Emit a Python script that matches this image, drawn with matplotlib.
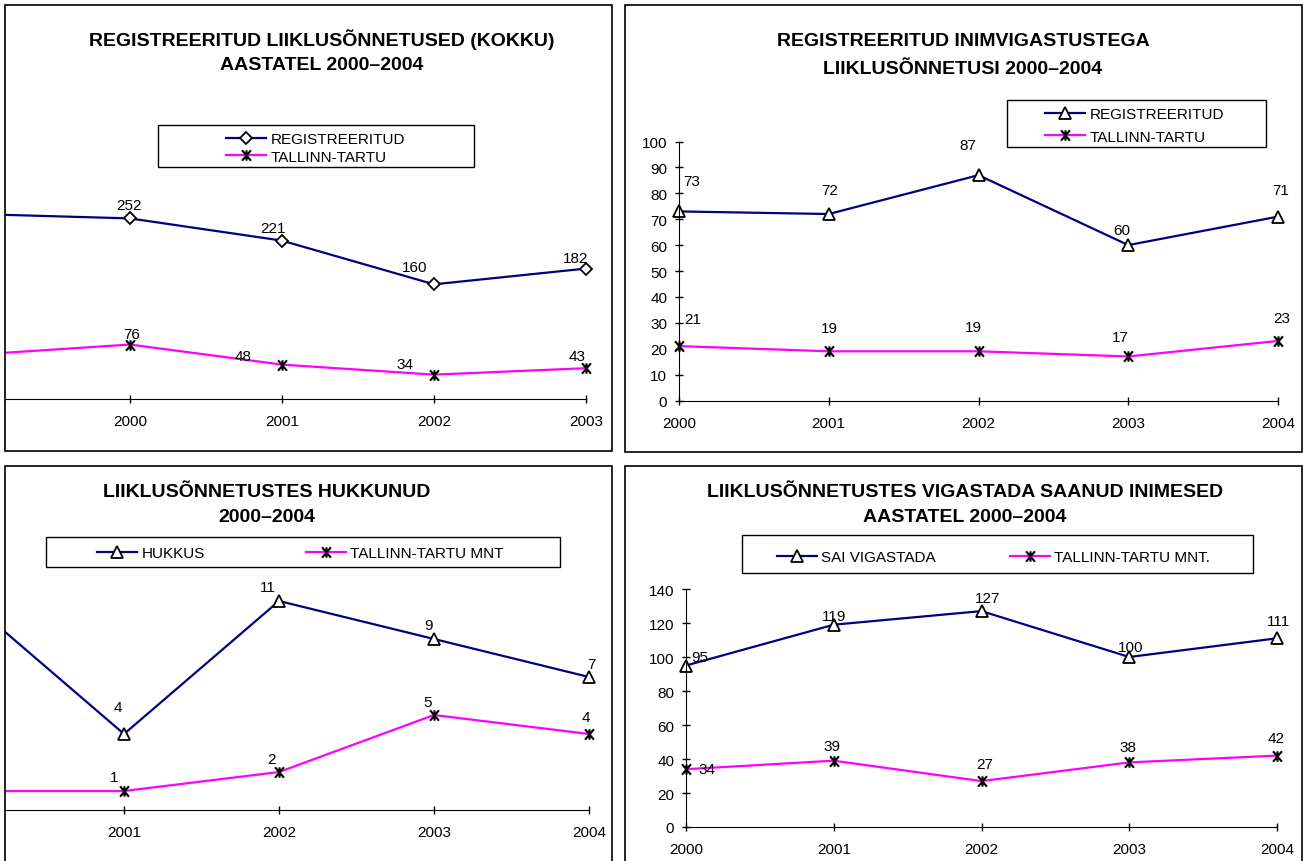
import numpy as np
import matplotlib.pyplot as plt
from matplotlib.patches import Rectangle
from matplotlib.path import Path

plt.rcParams['font.family'] = ['Liberation Sans', 'DejaVu Sans']

W, H = 1309, 862

# Top left: registered accidents (first category cut off by the crop)
tl_years = ['1999', '2000', '2001', '2002', '2003']
tl_registered = [258, 252, 221, 160, 182]
tl_tallinn = [62, 76, 48, 34, 43]

# Top right: accidents with injuries
tr_years = ['2000', '2001', '2002', '2003', '2004']
tr_registered = [73, 72, 87, 60, 71]
tr_tallinn = [21, 19, 19, 17, 23]

# Bottom left: killed (first category cut off)
bl_years = ['2000', '2001', '2002', '2003', '2004']
bl_killed = [11, 4, 11, 9, 7]
bl_tallinn = [1, 1, 2, 5, 4]

# Bottom right: injured people
br_years = ['2000', '2001', '2002', '2003', '2004']
br_injured = [95, 119, 127, 100, 111]
br_tallinn = [34, 39, 27, 38, 42]

NAVY = '#000080'
PINK = '#FF00FF'

# star marker: x with a vertical bar
star = Path([(-0.85, -1), (0.85, 1), (-0.85, 1), (0.85, -1), (0, -1), (0, 1)],
            [Path.MOVETO, Path.LINETO] * 3)

fig = plt.figure(figsize=(W / 100, H / 100), dpi=100)
fig.patch.set_facecolor('white')


def px_axes(x0, y0, x1, y1):
    return fig.add_axes([x0 / W, 1 - y1 / H, (x1 - x0) / W, (y1 - y0) / H])


def px_rect(x0, y0, x1, y1, lw=1.0):
    r = Rectangle((x0 / W, 1 - y1 / H), (x1 - x0) / W, (y1 - y0) / H,
                  transform=fig.transFigure, fill=False, edgecolor='black', lw=lw)
    fig.add_artist(r)


def px_text(x, y, s, **kw):
    fig.text(x / W, 1 - y / H, s, ha='center', va='center', **kw)


def add_legend(handles, labels, x, y, spacing=0.05):
    fig.legend(handles, labels, loc='center left', bbox_to_anchor=(x / W, 1 - y / H),
               frameon=False, borderpad=0, borderaxespad=0, handlelength=2.6,
               handletextpad=0.3, labelspacing=spacing, fontsize=11)


def style(ax, years, xlim, ylim, yticks=None, axis_end=None):
    ax.patch.set_alpha(0)
    ax.set_xticks(range(len(years)))
    ax.set_xticklabels(years)
    for s in ['top', 'right']:
        ax.spines[s].set_visible(False)
    ax.tick_params(axis='x', direction='inout', length=6, width=1, pad=8, labelsize=11)
    if yticks is None:
        ax.spines['left'].set_visible(False)
        ax.set_yticks([])
    else:
        ax.set_yticks(yticks)
        ax.tick_params(axis='y', direction='inout', length=6, width=1, pad=5.5, labelsize=11)
    ax.set_xlim(*xlim)
    ax.set_ylim(*ylim)
    if axis_end is not None:
        ax.spines['bottom'].set_bounds(xlim[0], axis_end)


def series(ax, vals, color, marker, ms, offsets, clip):
    x = np.arange(len(vals))
    if marker == 'star':
        ln, = ax.plot(x, vals, color=color, lw=1.6, marker=star, ms=7.5, mec='black',
                      mfc='none', mew=1.5, clip_on=clip)
    else:
        ln, = ax.plot(x, vals, color=color, lw=1.6, marker=marker, ms=ms, mec='black',
                      mfc='white', mew=1.3, clip_on=clip)
    for i, v in enumerate(vals):
        if i < ax.get_xlim()[0]:
            continue
        dx, dy = offsets[i]
        ax.annotate(str(v), (i, v), xytext=(dx, dy), textcoords='offset pixels',
                    ha='center', va='center', fontsize=11, annotation_clip=False)
    return ln


# panel frames
px_rect(5, 6, 612, 452, lw=1.2)
px_rect(625, 6, 1302, 453, lw=1.2)
px_rect(5, 467, 612, 900, lw=1.2)
px_rect(625, 467, 1302, 900, lw=1.2)

# ---- top left (left part of the chart is cropped away)
ax = px_axes(5, 185, 586 + 0.3 * 152, 400)
style(ax, tl_years, (0.178, 4.3), (0, 300), axis_end=4)
a = series(ax, tl_registered, NAVY, 'D', 6.5,
           [(0, 0), (-1, 13), (-9, 13), (-19, 17), (-10, 11)], True)
b = series(ax, tl_tallinn, PINK, 'star', 0,
           [(0, 0), (2, 11), (-39, 9), (-29, 11), (-9, 12)], True)
px_text(322, 40, 'REGISTREERITUD LIIKLUSÕNNETUSED (KOKKU)', fontsize=14, fontweight='bold')
px_text(322, 65, 'AASTATEL 2000–2004', fontsize=14, fontweight='bold')
px_rect(158, 126, 474, 168)
add_legend([a, b], ['REGISTREERITUD', 'TALLINN-TARTU'], 226, 149, spacing=0.2)

# ---- top right
ax = px_axes(679, 142.5, 1278, 401.5)
style(ax, tr_years, (0, 4), (0, 100), yticks=range(0, 101, 10))
a = series(ax, tr_registered, NAVY, '^', 8,
           [(13, 30), (1, 24), (-11, 30), (-7, 15), (3, 27)], False)
b = series(ax, tr_tallinn, PINK, 'star', 0,
           [(14, 27), (1, 23), (-5, 24), (-8, 19), (4, 23)], False)
px_text(963, 42, 'REGISTREERITUD INIMVIGASTUSTEGA', fontsize=14, fontweight='bold')
px_text(963, 69, 'LIIKLUSÕNNETUSI 2000–2004', fontsize=14, fontweight='bold')
px_rect(1007, 101, 1266, 148)
add_legend([a, b], ['REGISTREERITUD', 'TALLINN-TARTU'], 1045, 126.5, spacing=0.55)

# ---- bottom left (left part cropped away)
ax = px_axes(5, 583, 589 + 0.3 * 155, 811)
style(ax, bl_years, (0.232, 4.3), (0, 12), axis_end=4)
a = series(ax, bl_killed, NAVY, '^', 8,
           [(0, 0), (-6, 27), (-11, 14), (-6, 14), (2, 13)], True)
b = series(ax, bl_tallinn, PINK, 'star', 0,
           [(0, 0), (-10, 14), (-8, 13), (-6, 13), (-3, 17)], True)
px_text(267, 493, 'LIIKLUSÕNNETUSTES HUKKUNUD', fontsize=14, fontweight='bold')
px_text(267, 518, '2000–2004', fontsize=14, fontweight='bold')
px_rect(46, 538, 560, 568)
add_legend([a], ['HUKKUS'], 97, 554)
add_legend([b], ['TALLINN-TARTU MNT'], 306, 554)

# ---- bottom right
ax = px_axes(686, 590, 1277, 828)
style(ax, br_years, (0, 4), (0, 140), yticks=range(0, 141, 20))
a = series(ax, br_injured, NAVY, '^', 8,
           [(14, 9), (0, 9), (6, 13), (1, 10), (1, 17)], False)
b = series(ax, br_tallinn, PINK, 'star', 0,
           [(21, 0), (-2, 15), (3, 17), (-1, 15), (-1, 18)], False)
px_text(965, 493, 'LIIKLUSÕNNETUSTES VIGASTADA SAANUD INIMESED', fontsize=14, fontweight='bold')
px_text(965, 518, 'AASTATEL 2000–2004', fontsize=14, fontweight='bold')
px_rect(742, 536, 1253, 574)
add_legend([a], ['SAI VIGASTADA'], 777, 558)
add_legend([b], ['TALLINN-TARTU MNT.'], 1010, 558)

fig.savefig('out.png', dpi=100)
